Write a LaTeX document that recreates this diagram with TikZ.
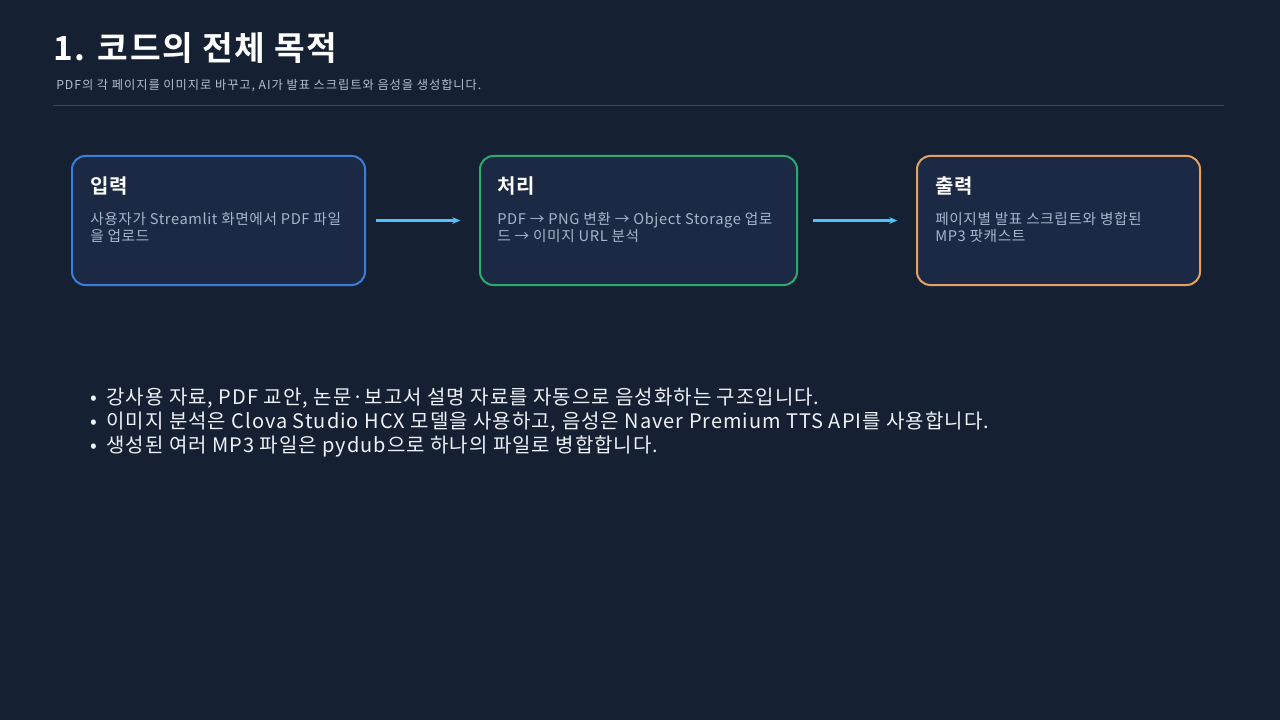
\documentclass[tikz,border=0pt]{standalone}
\usepackage{fontspec}
\setmainfont{Noto Sans CJK KR}
\newfontfamily\krbold{Noto Sans CJK KR Bold}
\usetikzlibrary{arrows.meta}
\definecolor{bgc}{HTML}{162033}
\definecolor{boxc}{HTML}{1C2944}
\definecolor{blueb}{HTML}{3B7DD8}
\definecolor{greenb}{HTML}{2EA86C}
\definecolor{orangeb}{HTML}{E3A163}
\definecolor{arrc}{HTML}{4FC3F7}
\definecolor{descc}{HTML}{A9B5C9}
\definecolor{subc}{HTML}{B4BECC}
\definecolor{rulec}{HTML}{3C4759}
\definecolor{txtc}{HTML}{EEF2F7}
\tikzset{
  stagebox/.style={draw, line width=1.5pt, fill=boxc, rounded corners=10pt,
    minimum height=96.75pt, inner sep=0pt},
  boxtitle/.style={anchor=base west, inner sep=0pt, text=white, font=\krbold\fontsize{15pt}{17pt}\selectfont\addfontfeature{LetterSpace=3}},
  boxdesc/.style={anchor=base west, inner sep=0pt, text=descc, align=left,
    font=\fontsize{11pt}{13.5pt}\selectfont\addfontfeature{LetterSpace=4}},
  bullet/.style={anchor=base west, inner sep=0pt, text=txtc, font=\fontsize{15pt}{18pt}\selectfont\addfontfeature{LetterSpace=5}},
  arr/.style={draw=arrc, line width=2pt, -{Stealth[length=6pt,width=5pt]}}
}
\begin{document}
\begin{tikzpicture}[x=0.75pt,y=-0.75pt]
\useasboundingbox[fill=bgc] (0,0) rectangle (1280,720);
% title
\node[anchor=base west, inner sep=0pt, text=white, font=\krbold\fontsize{25pt}{28pt}\selectfont\addfontfeature{LetterSpace=5}] (title) at (53,61) {1. 코드의 전체 목적};
\node[anchor=base west, inner sep=0pt, text=subc, font=\fontsize{9.2pt}{10pt}\selectfont\addfontfeature{LetterSpace=7.5}] (sub) at (56,90) {PDF의 각 페이지를 이미지로 바꾸고, AI가 발표 스크립트와 음성을 생성합니다.};
\draw[rulec, line width=0.75pt] (53,106) -- (1224,106);
% boxes
\node[stagebox, draw=blueb, minimum width=219.75pt] (b1) at (218.5,220.5) {};
\node[stagebox, draw=greenb, minimum width=237.75pt] (b2) at (638.5,220.5) {};
\node[stagebox, draw=orangeb, minimum width=212.25pt] (b3) at (1058.5,220.5) {};
\node[boxtitle] (t1) at (90,194) {입력};
\node[boxdesc] (d1) at (90,224) {사용자가 Streamlit 화면에서 PDF 파일};
\node[boxdesc] (d1b) at (90,242) {을 업로드};
\node[boxtitle] (t2) at (497,194) {처리};
\node[boxdesc] (d2) at (497,224) {PDF → PNG 변환 → Object Storage 업로};
\node[boxdesc] (d2b) at (497,242) {드 → 이미지 URL 분석};
\node[boxtitle] (t3) at (935,194) {출력};
\node[boxdesc] (d3) at (935,224) {페이지별 발표 스크립트와 병합된};
\node[boxdesc] (d3b) at (935,242) {MP3 팟캐스트};
% arrows
\draw[arr, shorten <=7.5pt, shorten >=14pt] (b1) -- (b2);
\draw[arr, shorten <=11pt, shorten >=14pt] (b2) -- (b3);
% bullets
\node[bullet] (l1) at (90,404) {•\hspace{7pt}강사용 자료, PDF 교안, 논문·보고서 설명 자료를 자동으로 음성화하는 구조입니다.};
\node[bullet] (l2) at (90,428) {•\hspace{7pt}이미지 분석은 Clova Studio HCX 모델을 사용하고, 음성은 Naver Premium TTS API를 사용합니다.};
\node[bullet] (l3) at (90,452) {•\hspace{7pt}생성된 여러 MP3 파일은 pydub으로 하나의 파일로 병합합니다.};
\end{tikzpicture}
\end{document}
